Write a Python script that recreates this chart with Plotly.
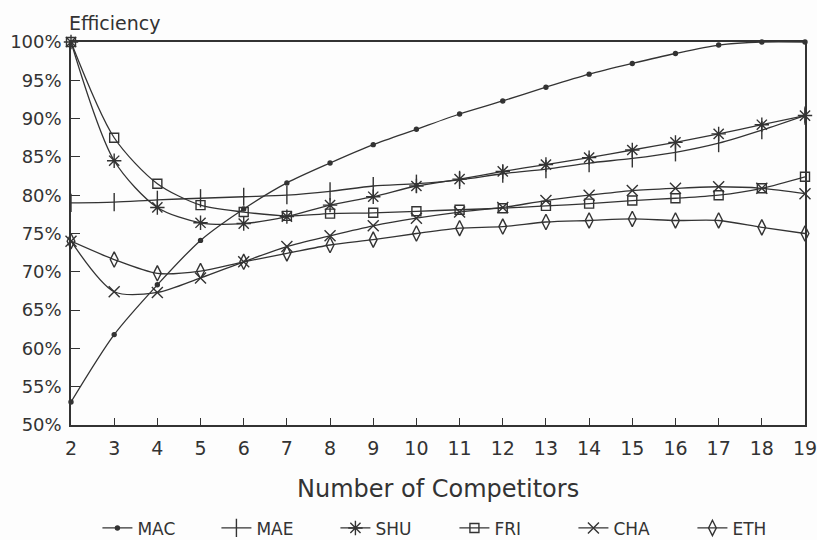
import plotly.graph_objects as go

competitors = list(range(2, 20))
x_tick_labels = [str(v) for v in competitors]
y_tick_values = [50, 55, 60, 65, 70, 75, 80, 85, 90, 95, 100]

MAC = [53.0, 61.8, 68.3, 74.1, 78.2, 81.6, 84.2, 86.6, 88.6, 90.6, 92.3, 94.1, 95.8, 97.2, 98.5, 99.6, 100.0, 100.0]
MAE = [79.0, 79.1, 79.4, 79.6, 79.8, 80.0, 80.5, 81.2, 81.5, 82.0, 82.8, 83.4, 84.2, 84.8, 85.6, 86.8, 88.5, 90.4]
SHU = [100.0, 84.5, 78.4, 76.4, 76.3, 77.2, 78.7, 79.8, 81.2, 82.1, 83.1, 84.0, 84.9, 85.9, 86.9, 88.0, 89.2, 90.4]
FRI = [100.0, 87.5, 81.5, 78.7, 77.8, 77.3, 77.6, 77.7, 77.9, 78.1, 78.3, 78.6, 78.9, 79.3, 79.6, 80.0, 80.9, 82.4]
CHA = [74.0, 67.4, 67.3, 69.2, 71.3, 73.3, 74.7, 76.0, 77.0, 77.8, 78.4, 79.3, 80.0, 80.6, 80.9, 81.1, 80.9, 80.2]
ETH = [74.0, 71.6, 69.8, 70.1, 71.3, 72.4, 73.5, 74.2, 75.0, 75.7, 75.9, 76.5, 76.7, 76.9, 76.7, 76.7, 75.8, 75.0]

series = [
    ("MAC", MAC, "circle", 4),
    ("MAE", MAE, "line-ns-open", 13),
    ("SHU", SHU, "asterisk-open", 12),
    ("FRI", FRI, "square-open", 9),
    ("CHA", CHA, "x-thin-open", 11),
    ("ETH", ETH, "diamond-tall-open", 11),
]

INK = "#333333"
FONT = "DejaVu Sans"

fig = go.Figure()
for name, vals, sym, size in series:
    fig.add_trace(go.Scatter(
        x=competitors, y=vals, name=name, mode="lines+markers",
        line=dict(color=INK, width=1.3, shape="spline", smoothing=0.8),
        marker=dict(symbol=sym, size=size, color=INK,
                    line=dict(color=INK, width=1.4)),
        cliponaxis=False,
    ))

fig.update_layout(
    width=817, height=540,
    margin=dict(l=71, r=12, t=42, b=115, autoexpand=False),
    paper_bgcolor="#fdfdfd", plot_bgcolor="#fdfdfd",
    font=dict(family=FONT, color=INK, size=18),
    showlegend=True,
    legend=dict(orientation="h", x=0.036, xanchor="left", y=-0.27, yanchor="middle",
                font=dict(size=17, family=FONT, color=INK),
                entrywidth=74, entrywidthmode="pixels",
                bgcolor="rgba(0,0,0,0)", traceorder="normal"),
    xaxis=dict(range=[2, 19], tickmode="array", tickvals=competitors, ticktext=x_tick_labels,
               ticks="inside", ticklen=7, tickwidth=1.3, tickcolor=INK,
               showline=True, linecolor=INK, linewidth=1.5, mirror=True,
               showgrid=False, zeroline=False, automargin=False, ticklabelstandoff=5,
               ticklabeloverflow="allow",
               tickfont=dict(size=19, family=FONT, color=INK)),
    yaxis=dict(range=[50, 100], tickmode="array", tickvals=y_tick_values,
               ticktext=[f"{v}%" for v in y_tick_values],
               ticks="inside", ticklen=9, tickwidth=1.3, tickcolor=INK,
               showline=True, linecolor=INK, linewidth=1.5, mirror=True,
               showgrid=False, zeroline=False, ticklabelstandoff=4, automargin=False,
               ticklabeloverflow="allow",
               tickfont=dict(size=18, family=FONT, color=INK)),
    annotations=[
        dict(text="Efficiency", xref="paper", yref="paper", x=-0.006, y=1.0,
             xanchor="left", yanchor="bottom", yshift=6, showarrow=False,
             font=dict(size=19, family=FONT, color=INK)),
        dict(text="Number of Competitors", xref="paper", yref="paper", x=0.5, y=-0.167,
             xanchor="center", yanchor="middle", showarrow=False,
             font=dict(size=24, family=FONT, color=INK)),
    ],
)

fig.write_html("out.html",
               config={"displayModeBar": False},
               post_script="document.body.style.margin='0';document.body.style.background='#fdfdfd';")
